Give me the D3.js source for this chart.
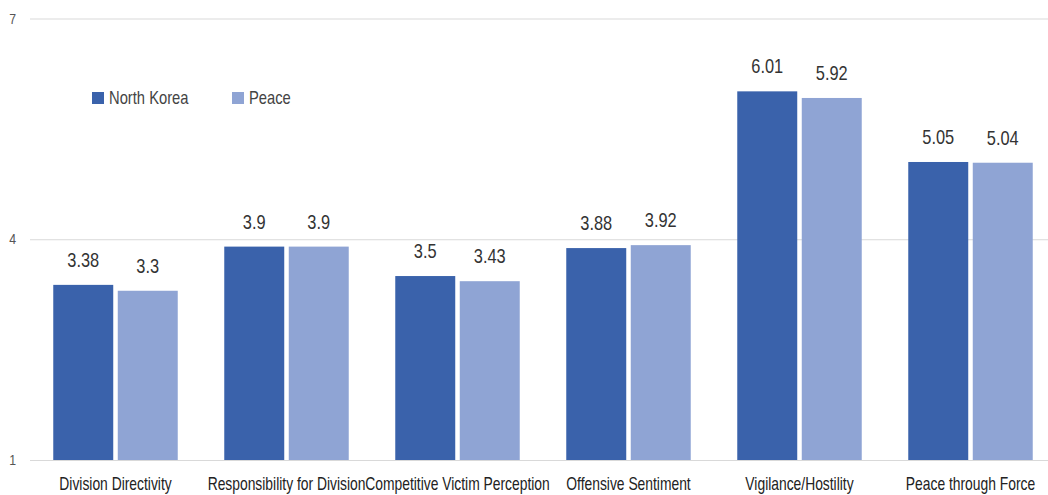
<!DOCTYPE html>
<html>
<head>
<meta charset="utf-8">
<script src="https://cdn.jsdelivr.net/npm/d3@7/dist/d3.min.js"></script>
<style>
  html, body { margin: 0; padding: 0; background: #fff; }
  svg { display: block; font-family: "Liberation Sans", Arial, sans-serif; }
</style>
</head>
<body>
<svg id="chart" width="1048" height="495"></svg>
<script>
const categories = ["Division Directivity", "Responsibility for Division", "Competitive Victim Perception", "Offensive Sentiment", "Vigilance/Hostility", "Peace through Force"];
const seriesNames = ["North Korea", "Peace"];
const northKorea = [3.38, 3.9, 3.5, 3.88, 6.01, 5.05];
const peace = [3.3, 3.9, 3.43, 3.92, 5.92, 5.04];
const yTicks = [1, 4, 7];
const colors = ["#3a62ab", "#8fa4d4"];

const NARROW = 0.82;
const svg = d3.select("#chart");
const series = [northKorea, peace];

const y = d3.scaleLinear().domain([1, 7]).range([460, 18.5]);
const x0 = d3.scaleBand().domain(categories).range([30, 1056]).paddingInner(0.272).paddingOuter(0.136);
const x1 = d3.scaleBand().domain(seriesNames).range([0, x0.bandwidth()]).paddingInner(0.07);
const color = d3.scaleOrdinal().domain(seriesNames).range(colors);

// helper: condensed text placed at (x, y)
function ntext(sel, fx, fy, k = NARROW) {
  return sel.append("g")
    .attr("transform", (d, i) => `translate(${fx(d, i)},${fy(d, i)}) scale(${k},1)`)
    .append("text");
}

// gridlines
svg.append("g").selectAll("line").data(yTicks).join("line")
  .attr("x1", 30).attr("x2", 1048)
  .attr("y1", d => y(d) + 0.5).attr("y2", d => y(d) + 0.5)
  .attr("stroke", "#d9d9d9").attr("stroke-width", 1);

// y tick labels
const yt = svg.append("g").selectAll("g").data(yTicks).join("g");
ntext(yt, () => 16, d => y(d) + 5)
  .attr("text-anchor", "end")
  .attr("font-size", 15).attr("fill", "#555")
  .text(d => d);

// bars
const groups = svg.append("g").selectAll("g").data(categories).join("g")
  .attr("transform", c => `translate(${x0(c)},0)`);

const items = (c, i) => seriesNames.map((s, j) => ({ s, v: series[j][i] }));

groups.selectAll("rect").data(items)
  .join("rect")
  .attr("x", d => x1(d.s))
  .attr("width", x1.bandwidth())
  .attr("y", d => y(d.v))
  .attr("height", d => y(1) - y(d.v))
  .attr("fill", d => color(d.s));

const vals = groups.selectAll("g.val").data(items).join("g").attr("class", "val");
ntext(vals, d => x1(d.s) + x1.bandwidth() / 2, d => y(d.v) - 18)
  .attr("text-anchor", "middle")
  .attr("font-size", 20).attr("fill", "#333")
  .text(d => String(d.v));

// category labels
const cl = svg.append("g").selectAll("g").data(categories).join("g");
ntext(cl, c => x0(c) + x0.bandwidth() / 2, () => 490, 0.77)
  .attr("text-anchor", "middle")
  .attr("font-size", 18).attr("fill", "#222")
  .text(c => c);

// legend
const legendX = [92, 232];
const legend = svg.append("g").selectAll("g").data(seriesNames).join("g")
  .attr("transform", (s, i) => `translate(${legendX[i]},92)`);
legend.append("rect").attr("width", 12).attr("height", 12).attr("fill", s => color(s));
ntext(legend, () => 17, () => 12)
  .attr("font-size", 18).attr("fill", "#444").text(s => s);
</script>
</body>
</html>
